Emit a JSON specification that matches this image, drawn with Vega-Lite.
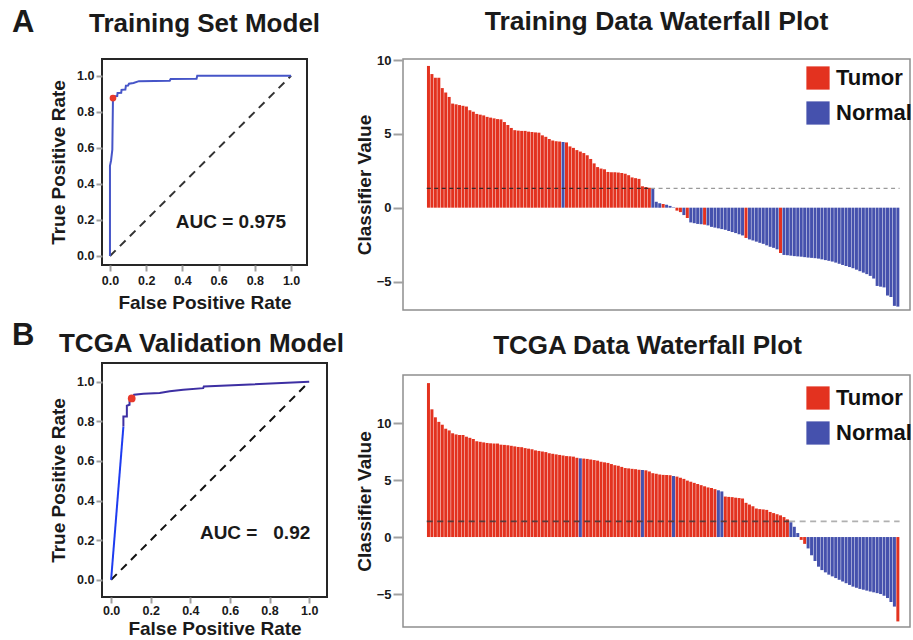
{
  "$schema": "https://vega.github.io/schema/vega-lite/v6.json",
  "padding": {"left": 10, "top": 5, "right": 2, "bottom": 2},
  "config": {
    "font": "Liberation Sans",
    "axis": {"labelFont": "Liberation Sans", "labelFontWeight": "bold", "labelColor": "#1a1a1a", "titleFont": "Liberation Sans", "titleFontWeight": "bold", "titleColor": "#1a1a1a", "titleFontSize": 19, "grid": false, "domain": false, "tickColor": "#a0a0a0", "tickWidth": 2},
    "title": {"font": "Liberation Sans", "fontWeight": "bold", "fontSize": 26, "color": "#1a1a1a", "anchor": "middle"},
    "text": {"font": "Liberation Sans", "fontWeight": "bold", "color": "#1a1a1a"}
  },
  "resolve": {"scale": {"color": "independent"}, "legend": {"color": "independent"}},
  "spacing": 8,
  "hconcat": [
    {
      "vconcat": [
        {
          "width": 205, "height": 206,
          "view": {"stroke": "#262626", "strokeWidth": 2},
          "title": {"text": "Training Set Model", "offset": -30},
          "layer": [
            {
              "data": {"values": [{"fpr": 0, "tpr": 0}, {"fpr": 1, "tpr": 1}]},
              "mark": {"type": "line", "color": "#333333", "strokeWidth": 2, "strokeDash": [8, 6]},
              "encoding": {
                "x": {"field": "fpr", "type": "quantitative", "scale": {"domain": [-0.044, 1.088], "nice": false, "zero": false},
                      "axis": {"title": "False Positive Rate", "values": [0, 0.2, 0.4, 0.6, 0.8, 1], "format": ".1f", "labelFontSize": 12.5, "tickSize": 6, "labelPadding": 3, "titlePadding": 7}},
                "y": {"field": "tpr", "type": "quantitative", "scale": {"domain": [-0.05, 1.093], "nice": false, "zero": false},
                      "axis": {"title": "True Positive Rate", "values": [0, 0.2, 0.4, 0.6, 0.8, 1], "format": ".1f", "labelFontSize": 12.5, "tickSize": 6, "labelPadding": 2, "titlePadding": 8}}
              }
            },
            {
              "data": {"values": [
                {"step": 0, "fpr": 0, "tpr": 0}, {"step": 1, "fpr": 0, "tpr": 0.5}, {"step": 2, "fpr": 0.006, "tpr": 0.53},
                {"step": 3, "fpr": 0.013, "tpr": 0.59}, {"step": 4, "fpr": 0.0166, "tpr": 0.876}, {"step": 5, "fpr": 0.017, "tpr": 0.887},
                {"step": 6, "fpr": 0.04, "tpr": 0.888}, {"step": 7, "fpr": 0.042, "tpr": 0.905}, {"step": 8, "fpr": 0.062, "tpr": 0.906},
                {"step": 9, "fpr": 0.064, "tpr": 0.922}, {"step": 10, "fpr": 0.085, "tpr": 0.924}, {"step": 11, "fpr": 0.088, "tpr": 0.945},
                {"step": 12, "fpr": 0.1, "tpr": 0.946}, {"step": 13, "fpr": 0.105, "tpr": 0.956}, {"step": 14, "fpr": 0.13, "tpr": 0.96},
                {"step": 15, "fpr": 0.16, "tpr": 0.97}, {"step": 16, "fpr": 0.33, "tpr": 0.972}, {"step": 17, "fpr": 0.335, "tpr": 0.982},
                {"step": 18, "fpr": 0.478, "tpr": 0.983}, {"step": 19, "fpr": 0.482, "tpr": 1.0}, {"step": 20, "fpr": 1.0, "tpr": 1.0}
              ]},
              "mark": {"type": "line", "color": "#4655c8", "strokeWidth": 2},
              "encoding": {
                "x": {"field": "fpr", "type": "quantitative"},
                "y": {"field": "tpr", "type": "quantitative"},
                "order": {"field": "step", "type": "quantitative"}
              }
            },
            {
              "data": {"values": [{"fpr": 0.0166, "tpr": 0.876}]},
              "mark": {"type": "point", "filled": true, "color": "#e8392b", "opacity": 1, "size": 45},
              "encoding": {"x": {"field": "fpr", "type": "quantitative"}, "y": {"field": "tpr", "type": "quantitative"}}
            },
            {
              "data": {"values": [{"label": "AUC = 0.975"}]},
              "mark": {"type": "text", "fontSize": 19, "align": "center", "baseline": "middle"},
              "encoding": {"text": {"field": "label"}, "x": {"datum": 0.668, "type": "quantitative"}, "y": {"datum": 0.19, "type": "quantitative"}}
            },
            {
              "data": {"values": [{"label": "A"}]},
              "mark": {"type": "text", "fontSize": 31, "align": "left", "baseline": "alphabetic"},
              "encoding": {"text": {"field": "label"}, "x": {"datum": -0.541, "type": "quantitative"}, "y": {"datum": 1.243, "type": "quantitative"}}
            }
          ]
        },
        {
          "width": 225, "height": 234,
          "view": {"stroke": "#262626", "strokeWidth": 2},
          "title": {"text": "TCGA Validation Model", "offset": -37, "dx": -13},
          "layer": [
            {
              "data": {"values": [{"fpr": 0, "tpr": 0}, {"fpr": 1, "tpr": 1}]},
              "mark": {"type": "line", "color": "#111111", "strokeWidth": 2, "strokeDash": [8, 6]},
              "encoding": {
                "x": {"field": "fpr", "type": "quantitative", "scale": {"domain": [-0.046, 1.09], "nice": false, "zero": false},
                      "axis": {"title": "False Positive Rate", "values": [0, 0.2, 0.4, 0.6, 0.8, 1], "format": ".1f", "labelFontSize": 12.5, "tickSize": 6, "labelPadding": 1, "titlePadding": 3}},
                "y": {"field": "tpr", "type": "quantitative", "scale": {"domain": [-0.087, 1.095], "nice": false, "zero": false},
                      "axis": {"title": "True Positive Rate", "values": [0, 0.2, 0.4, 0.6, 0.8, 1], "format": ".1f", "labelFontSize": 12.5, "tickSize": 6, "labelPadding": 2, "titlePadding": 8}}
              }
            },
            {
              "data": {"values": [{"step": 0, "fpr": 0, "tpr": 0}, {"step": 1, "fpr": 0.062, "tpr": 0.774}]},
              "mark": {"type": "line", "color": "#1e3cf0", "strokeWidth": 2},
              "encoding": {"x": {"field": "fpr", "type": "quantitative"}, "y": {"field": "tpr", "type": "quantitative"}, "order": {"field": "step", "type": "quantitative"}}
            },
            {
              "data": {"values": [
                {"step": 1, "fpr": 0.062, "tpr": 0.774}, {"step": 2, "fpr": 0.062, "tpr": 0.825}, {"step": 3, "fpr": 0.0795, "tpr": 0.825},
                {"step": 4, "fpr": 0.0795, "tpr": 0.879}, {"step": 5, "fpr": 0.093, "tpr": 0.884}, {"step": 6, "fpr": 0.093, "tpr": 0.9},
                {"step": 7, "fpr": 0.104, "tpr": 0.916}, {"step": 8, "fpr": 0.116, "tpr": 0.935}, {"step": 9, "fpr": 0.163, "tpr": 0.94},
                {"step": 10, "fpr": 0.245, "tpr": 0.944}, {"step": 11, "fpr": 0.296, "tpr": 0.952}, {"step": 12, "fpr": 0.364, "tpr": 0.96},
                {"step": 13, "fpr": 0.465, "tpr": 0.968}, {"step": 14, "fpr": 0.468, "tpr": 0.976}, {"step": 15, "fpr": 1.0, "tpr": 1.0}
              ]},
              "mark": {"type": "line", "color": "#3d2fa3", "strokeWidth": 2},
              "encoding": {"x": {"field": "fpr", "type": "quantitative"}, "y": {"field": "tpr", "type": "quantitative"}, "order": {"field": "step", "type": "quantitative"}}
            },
            {
              "data": {"values": [{"fpr": 0.104, "tpr": 0.916}]},
              "mark": {"type": "point", "filled": true, "color": "#e8392b", "opacity": 1, "size": 60},
              "encoding": {"x": {"field": "fpr", "type": "quantitative"}, "y": {"field": "tpr", "type": "quantitative"}}
            },
            {
              "data": {"values": [{"label": "AUC =\u00a0\u00a0 0.92"}]},
              "mark": {"type": "text", "fontSize": 19, "align": "center", "baseline": "middle"},
              "encoding": {"text": {"field": "label"}, "x": {"datum": 0.727, "type": "quantitative"}, "y": {"datum": 0.237, "type": "quantitative"}}
            },
            {
              "data": {"values": [{"label": "B"}]},
              "mark": {"type": "text", "fontSize": 31, "align": "left", "baseline": "alphabetic"},
              "encoding": {"text": {"field": "label"}, "x": {"datum": -0.5, "type": "quantitative"}, "y": {"datum": 1.187, "type": "quantitative"}}
            }
          ]
        }
      ],
      "spacing": 98,
      "bounds": "flush"
    },
    {
      "vconcat": [
        {
          "width": 507, "height": 251,
          "view": {"stroke": "#8f8f8f", "strokeWidth": 1.5},
          "title": {"text": "Training Data Waterfall Plot", "offset": 19, "fontSize": 26.5},
          "layer": [
            {
              "data": {"values": [
                {"i":0,"v":9.6,"class":"Tumor"},{"i":1,"v":9.05,"class":"Tumor"},{"i":2,"v":8.8,"class":"Tumor"},{"i":3,"v":8.8,"class":"Tumor"},
                {"i":4,"v":8.1,"class":"Tumor"},{"i":5,"v":7.8,"class":"Tumor"},{"i":6,"v":7.5,"class":"Tumor"},{"i":7,"v":7.05,"class":"Tumor"},
                {"i":8,"v":7.0,"class":"Tumor"},{"i":9,"v":6.95,"class":"Tumor"},{"i":10,"v":6.9,"class":"Tumor"},{"i":11,"v":6.85,"class":"Tumor"},
                {"i":12,"v":6.6,"class":"Tumor"},{"i":13,"v":6.5,"class":"Tumor"},{"i":14,"v":6.35,"class":"Tumor"},{"i":15,"v":6.3,"class":"Tumor"},
                {"i":16,"v":6.25,"class":"Tumor"},{"i":17,"v":6.15,"class":"Tumor"},{"i":18,"v":6.1,"class":"Tumor"},{"i":19,"v":6.05,"class":"Tumor"},
                {"i":20,"v":6.0,"class":"Tumor"},{"i":21,"v":5.98,"class":"Tumor"},{"i":22,"v":5.8,"class":"Tumor"},{"i":23,"v":5.6,"class":"Tumor"},
                {"i":24,"v":5.4,"class":"Tumor"},{"i":25,"v":5.25,"class":"Tumor"},{"i":26,"v":5.22,"class":"Tumor"},{"i":27,"v":5.2,"class":"Tumor"},
                {"i":28,"v":5.2,"class":"Tumor"},{"i":29,"v":5.15,"class":"Tumor"},{"i":30,"v":5.12,"class":"Tumor"},{"i":31,"v":5.1,"class":"Tumor"},
                {"i":32,"v":5.08,"class":"Tumor"},{"i":33,"v":4.9,"class":"Tumor"},{"i":34,"v":4.8,"class":"Tumor"},{"i":35,"v":4.65,"class":"Tumor"},
                {"i":36,"v":4.55,"class":"Tumor"},{"i":37,"v":4.5,"class":"Tumor"},{"i":38,"v":4.48,"class":"Tumor"},{"i":39,"v":4.45,"class":"Normal"},
                {"i":40,"v":4.42,"class":"Tumor"},{"i":41,"v":4.15,"class":"Tumor"},{"i":42,"v":4.05,"class":"Tumor"},{"i":43,"v":3.9,"class":"Tumor"},
                {"i":44,"v":3.8,"class":"Tumor"},{"i":45,"v":3.7,"class":"Tumor"},{"i":46,"v":3.55,"class":"Tumor"},{"i":47,"v":3.3,"class":"Tumor"},
                {"i":48,"v":3.0,"class":"Tumor"},{"i":49,"v":2.75,"class":"Tumor"},{"i":50,"v":2.65,"class":"Tumor"},{"i":51,"v":2.6,"class":"Tumor"},
                {"i":52,"v":2.42,"class":"Tumor"},{"i":53,"v":2.4,"class":"Tumor"},{"i":54,"v":2.4,"class":"Tumor"},{"i":55,"v":2.38,"class":"Tumor"},
                {"i":56,"v":2.35,"class":"Tumor"},{"i":57,"v":2.3,"class":"Tumor"},{"i":58,"v":2.2,"class":"Tumor"},{"i":59,"v":2.05,"class":"Tumor"},
                {"i":60,"v":2.0,"class":"Tumor"},{"i":61,"v":1.95,"class":"Tumor"},{"i":62,"v":1.45,"class":"Tumor"},{"i":63,"v":1.4,"class":"Tumor"},
                {"i":64,"v":1.35,"class":"Tumor"},{"i":65,"v":1.3,"class":"Normal"},{"i":66,"v":0.4,"class":"Normal"},{"i":67,"v":0.3,"class":"Normal"},
                {"i":68,"v":0.25,"class":"Tumor"},{"i":69,"v":0.2,"class":"Normal"},{"i":70,"v":0.12,"class":"Normal"},{"i":71,"v":0.03,"class":"Normal"},
                {"i":72,"v":-0.2,"class":"Tumor"},{"i":73,"v":-0.3,"class":"Tumor"},{"i":74,"v":-0.5,"class":"Normal"},{"i":75,"v":-0.7,"class":"Tumor"},
                {"i":76,"v":-1.0,"class":"Normal"},{"i":77,"v":-1.05,"class":"Normal"},{"i":78,"v":-1.1,"class":"Normal"},{"i":79,"v":-1.12,"class":"Normal"},
                {"i":80,"v":-1.15,"class":"Tumor"},{"i":81,"v":-1.2,"class":"Normal"},{"i":82,"v":-1.3,"class":"Normal"},{"i":83,"v":-1.35,"class":"Normal"},
                {"i":84,"v":-1.4,"class":"Normal"},{"i":85,"v":-1.45,"class":"Normal"},{"i":86,"v":-1.5,"class":"Normal"},{"i":87,"v":-1.58,"class":"Normal"},
                {"i":88,"v":-1.65,"class":"Normal"},{"i":89,"v":-1.72,"class":"Normal"},{"i":90,"v":-1.8,"class":"Normal"},{"i":91,"v":-1.88,"class":"Normal"},
                {"i":92,"v":-2.05,"class":"Tumor"},{"i":93,"v":-2.15,"class":"Normal"},{"i":94,"v":-2.22,"class":"Normal"},{"i":95,"v":-2.3,"class":"Normal"},
                {"i":96,"v":-2.38,"class":"Normal"},{"i":97,"v":-2.45,"class":"Normal"},{"i":98,"v":-2.55,"class":"Normal"},{"i":99,"v":-2.65,"class":"Normal"},
                {"i":100,"v":-2.72,"class":"Normal"},{"i":101,"v":-2.82,"class":"Normal"},{"i":102,"v":-3.07,"class":"Tumor"},{"i":103,"v":-3.2,"class":"Normal"},
                {"i":104,"v":-3.22,"class":"Normal"},{"i":105,"v":-3.25,"class":"Normal"},{"i":106,"v":-3.28,"class":"Normal"},{"i":107,"v":-3.3,"class":"Normal"},
                {"i":108,"v":-3.32,"class":"Normal"},{"i":109,"v":-3.35,"class":"Normal"},{"i":110,"v":-3.38,"class":"Normal"},{"i":111,"v":-3.4,"class":"Normal"},
                {"i":112,"v":-3.42,"class":"Normal"},{"i":113,"v":-3.45,"class":"Normal"},{"i":114,"v":-3.5,"class":"Normal"},{"i":115,"v":-3.55,"class":"Normal"},
                {"i":116,"v":-3.6,"class":"Normal"},{"i":117,"v":-3.65,"class":"Normal"},{"i":118,"v":-3.72,"class":"Normal"},{"i":119,"v":-3.8,"class":"Normal"},
                {"i":120,"v":-3.88,"class":"Normal"},{"i":121,"v":-3.95,"class":"Normal"},{"i":122,"v":-4.02,"class":"Normal"},{"i":123,"v":-4.1,"class":"Normal"},
                {"i":124,"v":-4.2,"class":"Normal"},{"i":125,"v":-4.3,"class":"Normal"},{"i":126,"v":-4.4,"class":"Normal"},{"i":127,"v":-4.5,"class":"Normal"},
                {"i":128,"v":-4.62,"class":"Normal"},{"i":129,"v":-4.8,"class":"Normal"},{"i":130,"v":-5.3,"class":"Normal"},{"i":131,"v":-5.35,"class":"Normal"},
                {"i":132,"v":-5.4,"class":"Normal"},{"i":133,"v":-5.95,"class":"Normal"},{"i":134,"v":-6.05,"class":"Normal"},{"i":135,"v":-6.65,"class":"Normal"},
                {"i":136,"v":-6.7,"class":"Normal"}
              ]},
              "mark": {"type": "bar", "width": 3},
              "encoding": {
                "x": {"field": "i", "type": "quantitative", "scale": {"domain": [-5.93, 138.07], "nice": false, "zero": false}, "axis": null},
                "y": {"field": "v", "type": "quantitative", "scale": {"domain": [-6.93, 10.07], "nice": false},
                      "axis": {"title": "Classifier Value", "values": [-5, 0, 5, 10], "labelFontSize": 13, "tickSize": 10, "labelPadding": 2, "titlePadding": 2}},
                "color": {"field": "class", "type": "nominal", "scale": {"domain": ["Tumor", "Normal"], "range": ["#e3321f", "#4551ad"]},
                          "legend": {"orient": "none", "legendX": 403, "legendY": 7, "title": null, "symbolType": "square", "symbolSize": 540, "symbolStrokeWidth": 0, "symbolOpacity": 1, "labelFontSize": 22, "labelFont": "Liberation Sans", "labelFontWeight": "bold", "labelColor": "#111111", "rowPadding": 11, "labelOffset": 6, "padding": 0}}
              }
            },
            {
              "data": {"values": [{}]},
              "mark": {"type": "rule", "color": "#3a2a2a", "strokeWidth": 1.3, "strokeDash": [4, 3.5]},
              "encoding": {"x": {"datum": -0.5, "type": "quantitative"}, "x2": {"datum": 64.5}, "y": {"datum": 1.31, "type": "quantitative"}}
            },
            {
              "data": {"values": [{}]},
              "mark": {"type": "rule", "color": "#9a9a9a", "strokeWidth": 1.3, "strokeDash": [4, 3.5]},
              "encoding": {"x": {"datum": 64.5, "type": "quantitative"}, "x2": {"datum": 136.5}, "y": {"datum": 1.31, "type": "quantitative"}}
            }
          ]
        },
        {
          "width": 507, "height": 252,
          "view": {"stroke": "#8f8f8f", "strokeWidth": 1.5},
          "title": {"text": "TCGA Data Waterfall Plot", "offset": 16, "dx": -9},
          "layer": [
            {
              "data": {"values": [
                {"i":0,"v":13.5,"class":"Tumor"},{"i":1,"v":11.2,"class":"Tumor"},{"i":2,"v":10.5,"class":"Tumor"},{"i":3,"v":10.1,"class":"Tumor"},
                {"i":4,"v":9.85,"class":"Tumor"},{"i":5,"v":9.5,"class":"Tumor"},{"i":6,"v":9.35,"class":"Tumor"},{"i":7,"v":9.1,"class":"Tumor"},
                {"i":8,"v":9.0,"class":"Tumor"},{"i":9,"v":8.95,"class":"Tumor"},{"i":10,"v":8.95,"class":"Tumor"},{"i":11,"v":8.8,"class":"Tumor"},
                {"i":12,"v":8.7,"class":"Tumor"},{"i":13,"v":8.6,"class":"Tumor"},{"i":14,"v":8.4,"class":"Tumor"},{"i":15,"v":8.35,"class":"Tumor"},
                {"i":16,"v":8.3,"class":"Tumor"},{"i":17,"v":8.25,"class":"Tumor"},{"i":18,"v":8.22,"class":"Tumor"},{"i":19,"v":8.2,"class":"Tumor"},
                {"i":20,"v":8.2,"class":"Tumor"},{"i":21,"v":8.1,"class":"Tumor"},{"i":22,"v":8.08,"class":"Tumor"},{"i":23,"v":8.05,"class":"Tumor"},
                {"i":24,"v":8.0,"class":"Tumor"},{"i":25,"v":7.95,"class":"Tumor"},{"i":26,"v":7.9,"class":"Tumor"},{"i":27,"v":7.88,"class":"Tumor"},
                {"i":28,"v":7.8,"class":"Tumor"},{"i":29,"v":7.75,"class":"Tumor"},{"i":30,"v":7.7,"class":"Tumor"},{"i":31,"v":7.6,"class":"Tumor"},
                {"i":32,"v":7.55,"class":"Tumor"},{"i":33,"v":7.5,"class":"Tumor"},{"i":34,"v":7.45,"class":"Tumor"},{"i":35,"v":7.35,"class":"Tumor"},
                {"i":36,"v":7.3,"class":"Tumor"},{"i":37,"v":7.25,"class":"Tumor"},{"i":38,"v":7.2,"class":"Tumor"},{"i":39,"v":7.15,"class":"Tumor"},
                {"i":40,"v":7.1,"class":"Tumor"},{"i":41,"v":7.08,"class":"Tumor"},{"i":42,"v":7.05,"class":"Tumor"},{"i":43,"v":6.95,"class":"Tumor"},
                {"i":44,"v":6.9,"class":"Normal"},{"i":45,"v":6.88,"class":"Tumor"},{"i":46,"v":6.85,"class":"Tumor"},{"i":47,"v":6.8,"class":"Tumor"},
                {"i":48,"v":6.75,"class":"Tumor"},{"i":49,"v":6.7,"class":"Tumor"},{"i":50,"v":6.6,"class":"Tumor"},{"i":51,"v":6.55,"class":"Tumor"},
                {"i":52,"v":6.5,"class":"Tumor"},{"i":53,"v":6.4,"class":"Tumor"},{"i":54,"v":6.3,"class":"Tumor"},{"i":55,"v":6.25,"class":"Tumor"},
                {"i":56,"v":6.15,"class":"Tumor"},{"i":57,"v":6.05,"class":"Tumor"},{"i":58,"v":6.02,"class":"Tumor"},{"i":59,"v":5.98,"class":"Tumor"},
                {"i":60,"v":5.95,"class":"Tumor"},{"i":61,"v":5.9,"class":"Tumor"},{"i":62,"v":5.88,"class":"Normal"},{"i":63,"v":5.85,"class":"Tumor"},
                {"i":64,"v":5.75,"class":"Tumor"},{"i":65,"v":5.6,"class":"Tumor"},{"i":66,"v":5.55,"class":"Tumor"},{"i":67,"v":5.48,"class":"Tumor"},
                {"i":68,"v":5.45,"class":"Tumor"},{"i":69,"v":5.44,"class":"Tumor"},{"i":70,"v":5.42,"class":"Tumor"},{"i":71,"v":5.35,"class":"Normal"},
                {"i":72,"v":5.3,"class":"Tumor"},{"i":73,"v":5.2,"class":"Tumor"},{"i":74,"v":5.1,"class":"Tumor"},{"i":75,"v":4.95,"class":"Tumor"},
                {"i":76,"v":4.85,"class":"Tumor"},{"i":77,"v":4.75,"class":"Tumor"},{"i":78,"v":4.65,"class":"Tumor"},{"i":79,"v":4.55,"class":"Tumor"},
                {"i":80,"v":4.45,"class":"Tumor"},{"i":81,"v":4.35,"class":"Tumor"},{"i":82,"v":4.3,"class":"Tumor"},{"i":83,"v":4.2,"class":"Tumor"},
                {"i":84,"v":4.1,"class":"Normal"},{"i":85,"v":4.0,"class":"Normal"},{"i":86,"v":3.55,"class":"Tumor"},{"i":87,"v":3.52,"class":"Tumor"},
                {"i":88,"v":3.5,"class":"Tumor"},{"i":89,"v":3.45,"class":"Tumor"},{"i":90,"v":3.42,"class":"Tumor"},{"i":91,"v":3.38,"class":"Tumor"},
                {"i":92,"v":3.0,"class":"Tumor"},{"i":93,"v":2.85,"class":"Tumor"},{"i":94,"v":2.7,"class":"Tumor"},{"i":95,"v":2.5,"class":"Tumor"},
                {"i":96,"v":2.45,"class":"Tumor"},{"i":97,"v":2.42,"class":"Tumor"},{"i":98,"v":2.38,"class":"Tumor"},{"i":99,"v":2.2,"class":"Tumor"},
                {"i":100,"v":2.1,"class":"Tumor"},{"i":101,"v":2.0,"class":"Tumor"},{"i":102,"v":1.9,"class":"Tumor"},{"i":103,"v":1.75,"class":"Tumor"},
                {"i":104,"v":1.55,"class":"Tumor"},{"i":105,"v":1.3,"class":"Normal"},{"i":106,"v":0.9,"class":"Normal"},{"i":107,"v":0.35,"class":"Normal"},
                {"i":108,"v":-0.25,"class":"Tumor"},{"i":109,"v":-0.6,"class":"Tumor"},{"i":110,"v":-1.0,"class":"Normal"},{"i":111,"v":-1.6,"class":"Normal"},
                {"i":112,"v":-2.1,"class":"Normal"},{"i":113,"v":-2.6,"class":"Normal"},{"i":114,"v":-2.9,"class":"Normal"},{"i":115,"v":-3.1,"class":"Normal"},
                {"i":116,"v":-3.3,"class":"Normal"},{"i":117,"v":-3.45,"class":"Normal"},{"i":118,"v":-3.6,"class":"Normal"},{"i":119,"v":-3.75,"class":"Normal"},
                {"i":120,"v":-3.9,"class":"Normal"},{"i":121,"v":-4.05,"class":"Normal"},{"i":122,"v":-4.2,"class":"Normal"},{"i":123,"v":-4.35,"class":"Normal"},
                {"i":124,"v":-4.45,"class":"Normal"},{"i":125,"v":-4.55,"class":"Normal"},{"i":126,"v":-4.62,"class":"Normal"},{"i":127,"v":-4.7,"class":"Normal"},
                {"i":128,"v":-4.78,"class":"Normal"},{"i":129,"v":-4.85,"class":"Normal"},{"i":130,"v":-4.92,"class":"Normal"},{"i":131,"v":-5.0,"class":"Normal"},
                {"i":132,"v":-5.15,"class":"Normal"},{"i":133,"v":-5.35,"class":"Normal"},{"i":134,"v":-5.7,"class":"Normal"},{"i":135,"v":-6.1,"class":"Normal"},
                {"i":136,"v":-7.4,"class":"Tumor"}
              ]},
              "mark": {"type": "bar", "width": 3},
              "encoding": {
                "x": {"field": "i", "type": "quantitative", "scale": {"domain": [-5.93, 138.07], "nice": false, "zero": false}, "axis": null},
                "y": {"field": "v", "type": "quantitative", "scale": {"domain": [-7.89, 14.21], "nice": false},
                      "axis": {"title": "Classifier Value", "values": [-5, 0, 5, 10], "labelFontSize": 13, "tickSize": 10, "labelPadding": 2, "titlePadding": 2}},
                "color": {"field": "class", "type": "nominal", "scale": {"domain": ["Tumor", "Normal"], "range": ["#e3321f", "#4551ad"]},
                          "legend": {"orient": "none", "legendX": 403, "legendY": 11, "title": null, "symbolType": "square", "symbolSize": 540, "symbolStrokeWidth": 0, "symbolOpacity": 1, "labelFontSize": 22, "labelFont": "Liberation Sans", "labelFontWeight": "bold", "labelColor": "#111111", "rowPadding": 11, "labelOffset": 6, "padding": 0}}
              }
            },
            {
              "data": {"values": [{}]},
              "mark": {"type": "rule", "color": "#5a3a3a", "strokeWidth": 1.6, "strokeDash": [6, 4.5]},
              "encoding": {"x": {"datum": -0.5, "type": "quantitative"}, "x2": {"datum": 104.5}, "y": {"datum": 1.37, "type": "quantitative"}}
            },
            {
              "data": {"values": [{}]},
              "mark": {"type": "rule", "color": "#b0b0b0", "strokeWidth": 1.6, "strokeDash": [6, 4.5]},
              "encoding": {"x": {"datum": 104.5, "type": "quantitative"}, "x2": {"datum": 136.5}, "y": {"datum": 1.37, "type": "quantitative"}}
            }
          ]
        }
      ],
      "spacing": 65,
      "bounds": "flush",
      "resolve": {"scale": {"color": "independent"}, "legend": {"color": "independent"}}
    }
  ]
}
